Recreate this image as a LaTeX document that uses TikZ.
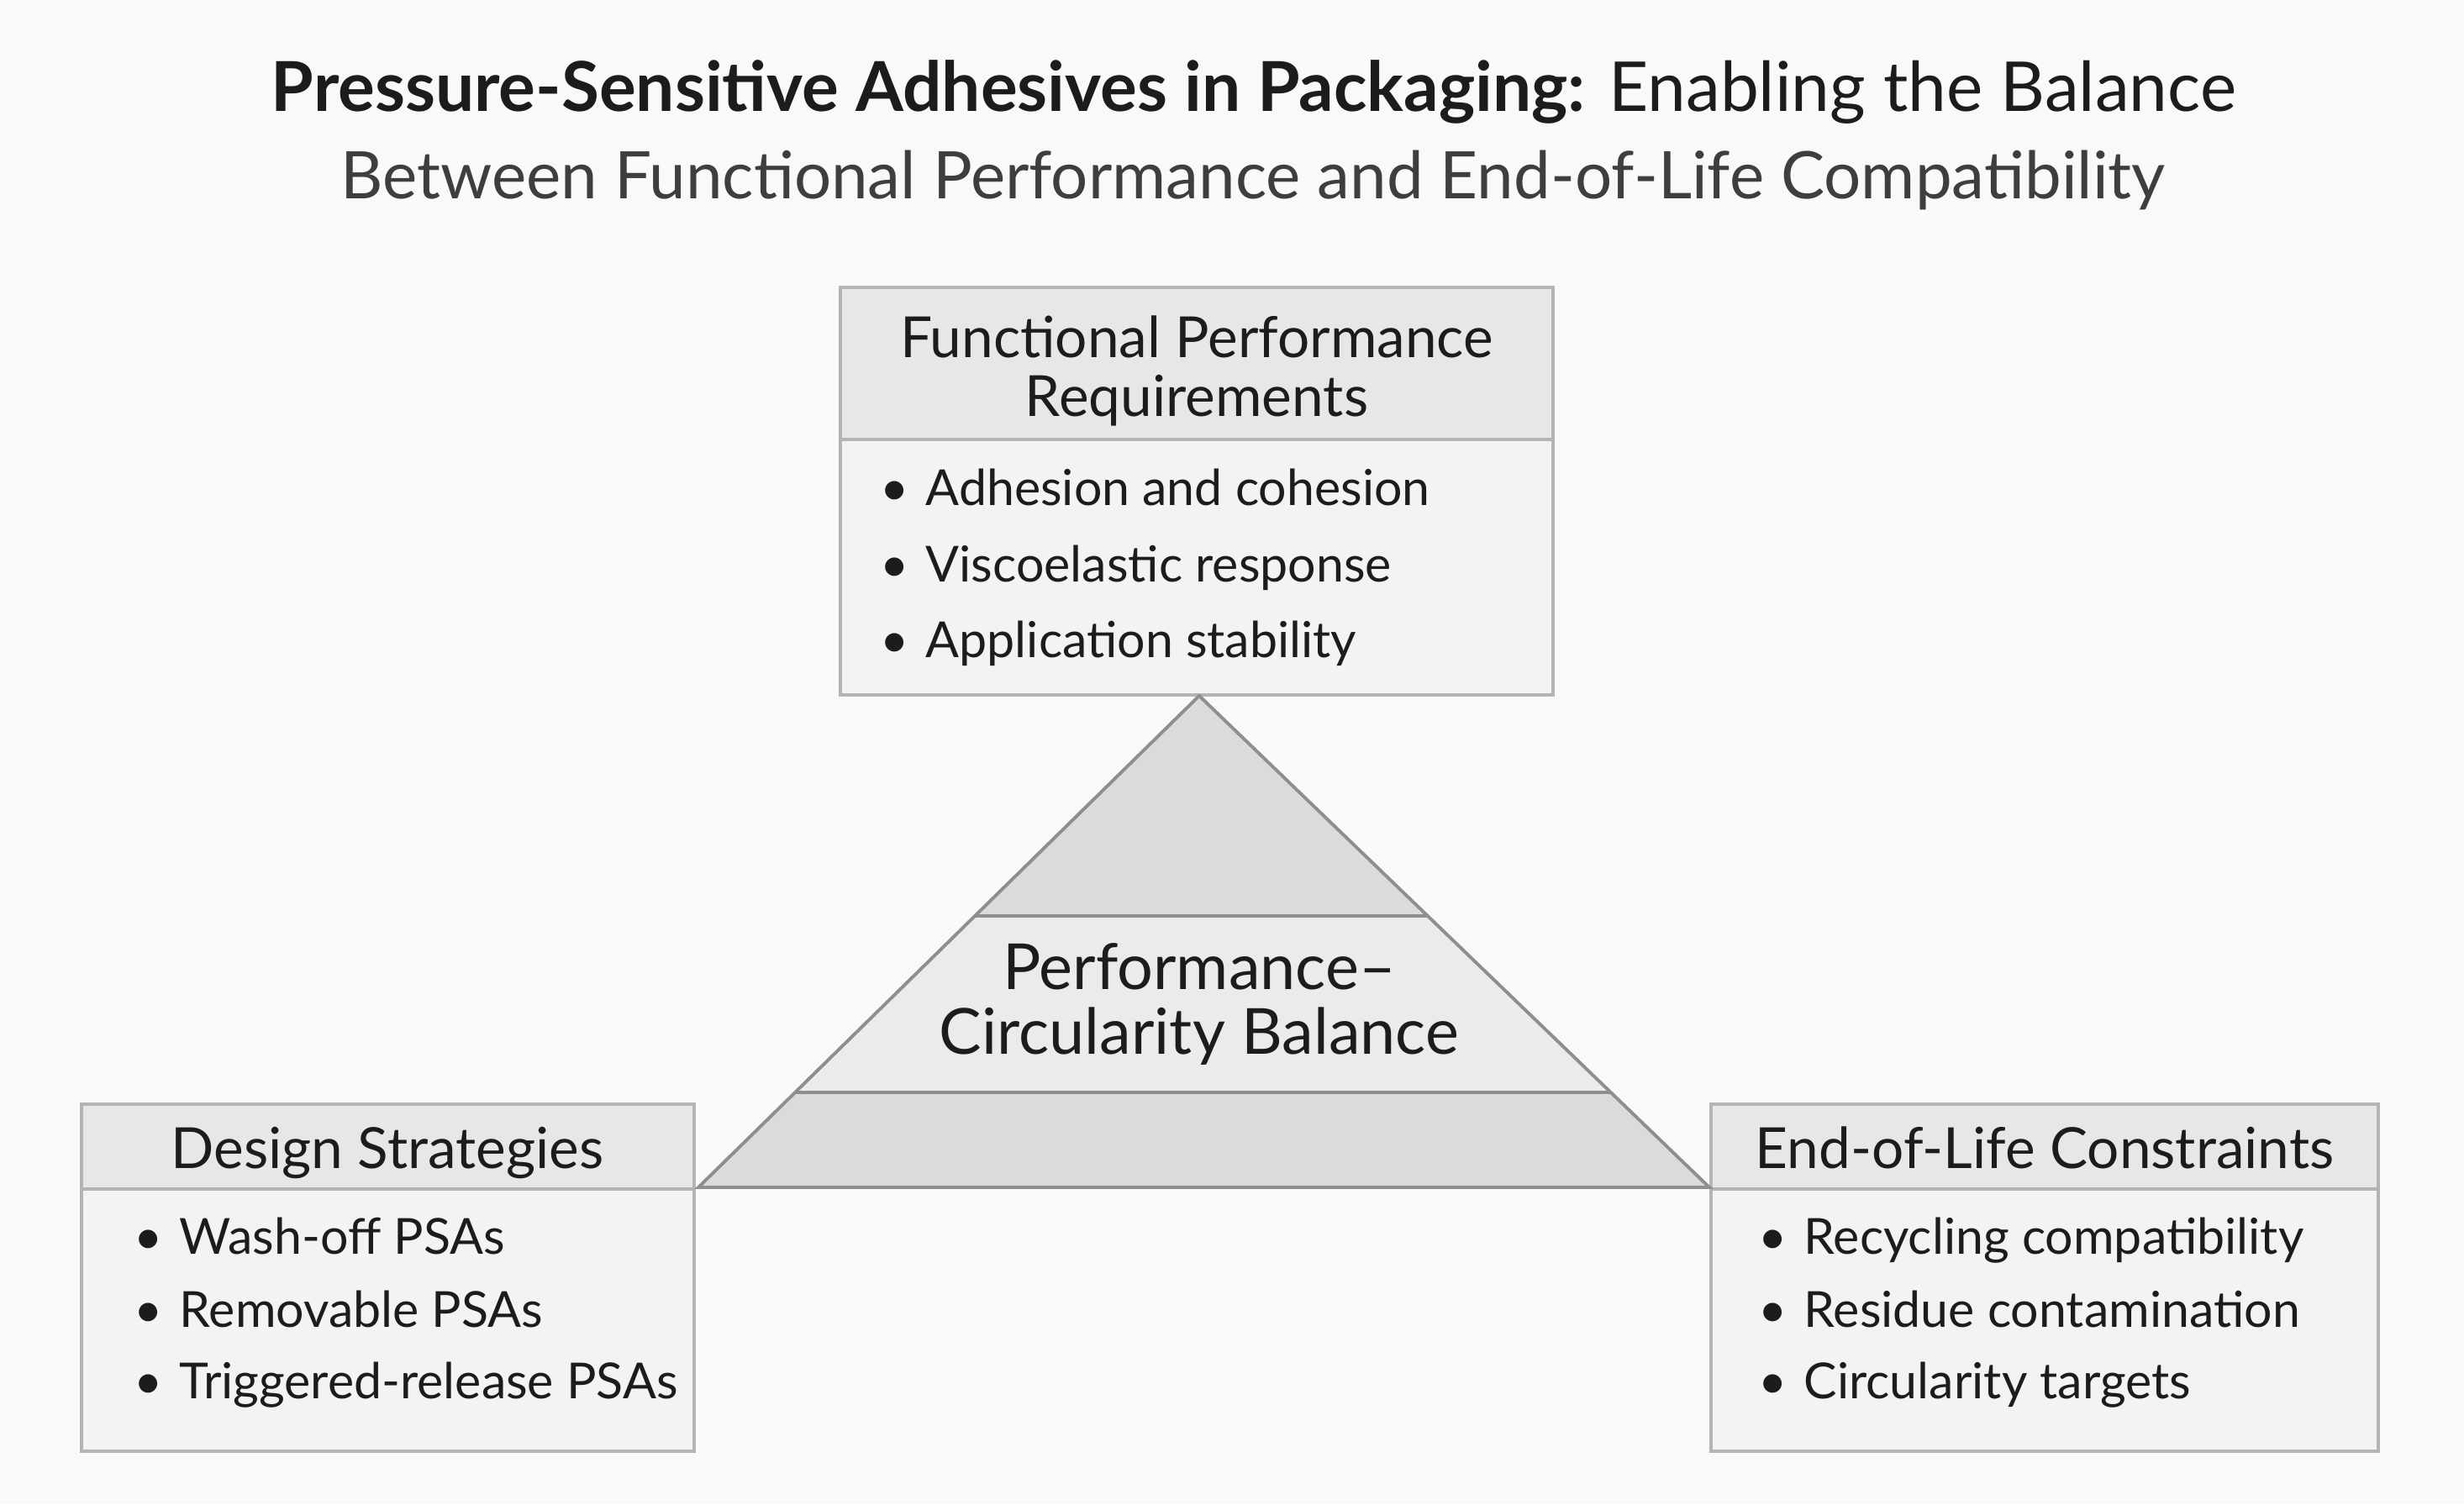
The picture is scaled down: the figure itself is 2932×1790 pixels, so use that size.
\documentclass[tikz,border=0pt]{standalone}
\usepackage{fontspec}
\setmainfont{Lato}
\usetikzlibrary{fit}
\definecolor{bgc}{HTML}{F9F9F9}
\definecolor{hdrc}{HTML}{E7E7E7}
\definecolor{bodyc}{HTML}{F3F3F3}
\definecolor{brdc}{HTML}{B4B4B4}
\definecolor{darkband}{HTML}{DBDBDB}
\definecolor{midband}{HTML}{EBEBEB}
\definecolor{trioutline}{HTML}{8E8E8E}
\definecolor{txt}{HTML}{1C1C1C}
\tikzset{
  boxpart/.style={draw=brdc, line width=1.2pt, inner sep=0pt, outer sep=0pt},
  hdr/.style={boxpart, fill=hdrc},
  bdy/.style={boxpart, fill=bodyc},
  hdrtext/.style={text=txt, font=\fontsize{19.2}{22}\selectfont, anchor=base, inner sep=0pt},
  item/.style={text=txt, font=\fontsize{16.8}{20}\selectfont, anchor=base west, inner sep=0pt},
  tritext/.style={text=txt, font=\fontsize{21.5}{24}\selectfont, anchor=base, inner sep=0pt},
}
\newcommand{\bul}{\makebox[0pt][r]{\textbullet\hspace{0.2cm}}}
\begin{document}
\begin{tikzpicture}[x=0.01cm, y=-0.01cm]
\useasboundingbox[fill=bgc] (0,0) rectangle (2932,1790);

% title
\node[text=txt, anchor=base, inner sep=0pt, font=\fontsize{23.3}{26}\selectfont] (t1) at (1492,132)
  {\textbf{Pressure-Sensitive Adhesives in Packaging:} Enabling the Balance};
\node[text=txt!85, anchor=base, inner sep=0pt, font=\fontsize{22.2}{26}\selectfont] (t2) at (1491,236)
  {Between Functional Performance and End-of-Life Compatibility};

% corner coordinates
\coordinate (fa) at (1000,342); \coordinate (fb) at (1848,523); \coordinate (fc) at (1848,827);
\coordinate (da) at (97,1314);  \coordinate (db) at (826,1415); \coordinate (dc) at (826,1727);
\coordinate (ea) at (2036,1314); \coordinate (eb) at (2830,1415); \coordinate (ec) at (2830,1727);
\coordinate (fb2) at (1000,523); \coordinate (db2) at (97,1415); \coordinate (eb2) at (2036,1415);

% boxes
\node[bdy, fit=(fb2)(fc)] (fbody) {};
\node[hdr, fit=(fa)(fb)] (fhead) {};
\node[bdy, fit=(db2)(dc)] (dbody) {};
\node[hdr, fit=(da)(db)] (dhead) {};
\node[bdy, fit=(eb2)(ec)] (ebody) {};
\node[hdr, fit=(ea)(eb)] (ehead) {};

% triangle
\coordinate (apex) at (1427,828);
\coordinate (bl) at (831,1413);
\coordinate (br) at (2034,1413);
\fill[darkband] (apex) -- (bl) -- (br) -- cycle;
\begin{scope}
  \clip (apex) -- (bl) -- (br) -- cycle;
  \fill[midband] (800,1090) rectangle (2100,1300);
  \draw[trioutline, line width=1pt] (800,1090) -- (2100,1090);
  \draw[trioutline, line width=1pt] (800,1300) -- (2100,1300);
\end{scope}
\draw[trioutline, line width=1.1pt, line join=miter] (apex) -- (bl) -- (br) -- cycle;

% header texts
\node[hdrtext] (fh1) at (1424,425) {Functional Performance};
\node[hdrtext] (fh2) at (1424,495) {Requirements};
\node[hdrtext] (dh) at (461,1390) {Design Strategies};
\node[hdrtext] (eh) at (2433,1390) {End-of-Life Constraints};

% items
\node[item] (f1) at (1101,601) {\bul Adhesion and cohesion};
\node[item] (f2) at (1101,692) {\bul Viscoelastic response};
\node[item] (f3) at (1101,782) {\bul Application stability};
\node[item] (d1) at (213,1492) {\bul Wash-off PSAs};
\node[item] (d2) at (213,1579) {\bul Removable PSAs};
\node[item] (d3) at (213,1664) {\bul Triggered-release PSAs};
\node[item] (e1) at (2146,1492) {\bul Recycling compatibility};
\node[item] (e2) at (2146,1579) {\bul Residue contamination};
\node[item] (e3) at (2146,1664) {\bul Circularity targets};

% triangle text
\node[tritext] (b1) at (1427,1177) {Performance–};
\node[tritext] (b2) at (1427,1254) {Circularity Balance};
\end{tikzpicture}
\end{document}
